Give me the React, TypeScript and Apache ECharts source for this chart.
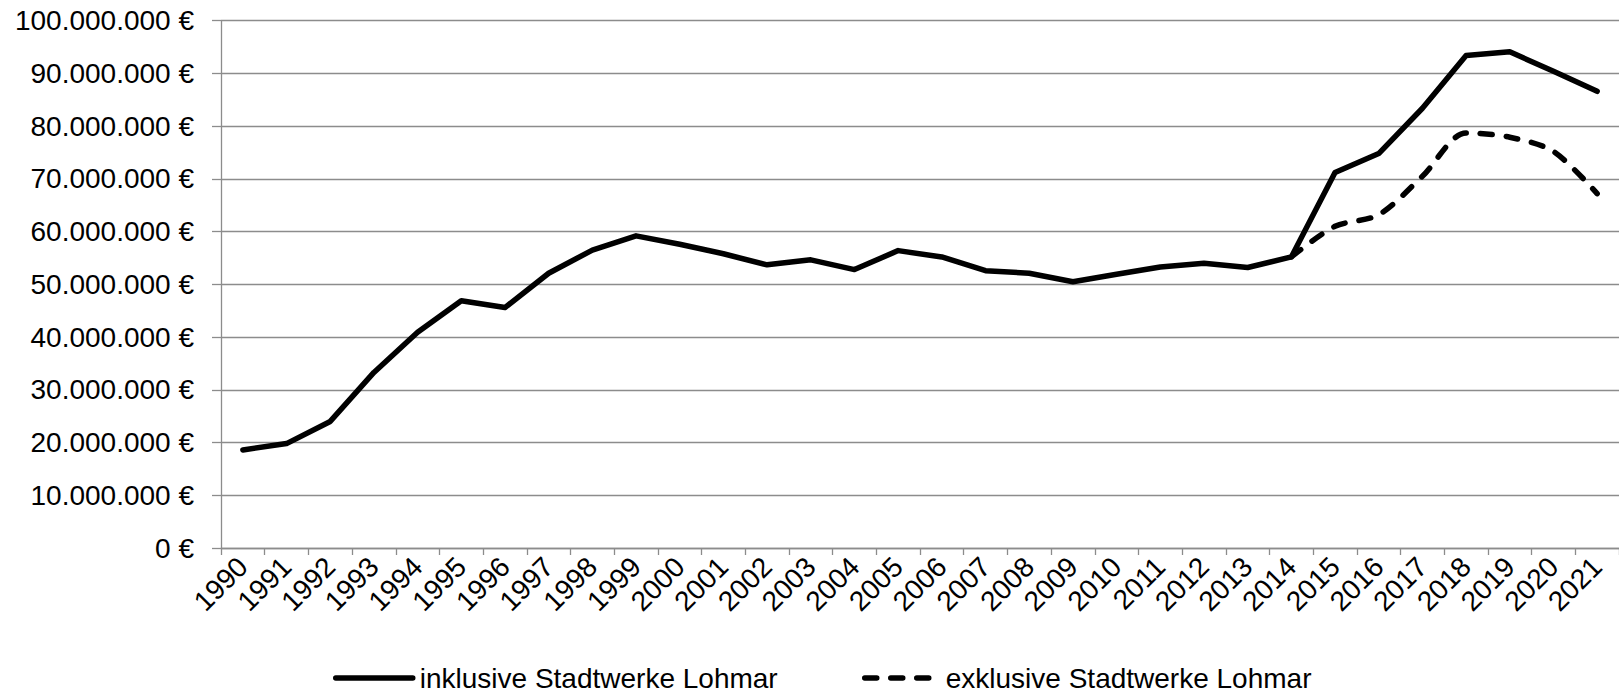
import React, { useEffect, useRef } from "react";
import * as echarts from "echarts";

const years: string[] = [
  "1990", "1991", "1992", "1993", "1994", "1995", "1996", "1997", "1998", "1999",
  "2000", "2001", "2002", "2003", "2004", "2005", "2006", "2007", "2008", "2009",
  "2010", "2011", "2012", "2013", "2014", "2015", "2016", "2017", "2018", "2019",
  "2020", "2021",
];

const inklusive: number[] = [
  18600000, 19800000, 24000000, 33300000, 40900000, 46900000, 45600000, 52100000,
  56500000, 59200000, 57600000, 55800000, 53700000, 54650000, 52800000, 56400000,
  55200000, 52600000, 52100000, 50500000, 51900000, 53300000, 54000000, 53200000,
  55200000, 71200000, 74800000, 83400000, 93400000, 94100000, 90400000, 86600000,
];

const exklusive: (number | null)[] = [
  null, null, null, null, null, null, null, null, null, null,
  null, null, null, null, null, null, null, null, null, null,
  null, null, null, null,
  55200000, 61000000, 63200000, 70500000, 78700000, 77900000, 75200000, 67200000,
];

const seriesNames: string[] = ["inklusive Stadtwerke Lohmar", "exklusive Stadtwerke Lohmar"];

const FONT = "'Liberation Sans', Arial, Helvetica, sans-serif";

function formatEuro(v: number): string {
  const s = Math.round(v).toString().replace(/\B(?=(\d{3})+(?!\d))/g, ".");
  return s + " €";
}

export default function App() {
  const ref = useRef<HTMLDivElement>(null);

  useEffect(() => {
    if (!ref.current) return;
    const chart = echarts.init(ref.current, null, { renderer: "svg" });
    const gridColor = "#8c8c8c";
    chart.setOption({
      animation: false,
      backgroundColor: "#ffffff",
      textStyle: { fontFamily: FONT },
      grid: { left: 221, right: -9, top: 20.7, bottom: 144, containLabel: false },
      legend: [
        {
          data: [seriesNames[0]],
          left: 333,
          top: 664,
          padding: 0,
          itemWidth: 77,
          itemHeight: 26,
          itemStyle: { opacity: 0, borderWidth: 0 },
          lineStyle: { width: 5.5 },
          textStyle: { fontSize: 28, color: "#000", fontFamily: FONT, padding: [0, 0, 0, 2], lineHeight: 26 },
        },
        {
          data: [seriesNames[1]],
          left: 862,
          top: 664,
          padding: 0,
          itemWidth: 68,
          itemHeight: 26,
          itemStyle: { opacity: 0, borderWidth: 0 },
          lineStyle: { width: 5.5 },
          textStyle: { fontSize: 28, color: "#000", fontFamily: FONT, padding: [0, 0, 0, 8], lineHeight: 26 },
        },
      ],
      xAxis: {
        type: "category",
        data: years,
        boundaryGap: true,
        axisLine: { lineStyle: { color: gridColor, width: 1.3 } },
        axisTick: { show: true, length: 7, lineStyle: { color: gridColor, width: 1.3 } },
        axisLabel: {
          rotate: 45,
          fontSize: 28,
          color: "#000",
          fontFamily: FONT,
          margin: 14,
          interval: 0,
        },
        splitLine: { show: false },
      },
      yAxis: {
        type: "value",
        min: 0,
        max: 100000000,
        interval: 10000000,
        axisLine: { show: true, lineStyle: { color: gridColor, width: 1.3 } },
        axisTick: { show: true, length: 9, lineStyle: { color: gridColor, width: 1.3 } },
        axisLabel: {
          fontSize: 28,
          color: "#000",
          fontFamily: FONT,
          margin: 27,
          formatter: (v: number) => formatEuro(v),
        },
        splitLine: { show: true, lineStyle: { color: gridColor, width: 1.3 } },
      },
      series: [
        {
          name: seriesNames[0],
          type: "line",
          data: inklusive,
          symbol: "none",
          showSymbol: false,
          lineStyle: { color: "#000", width: 5.5, cap: "round", join: "round" },
          itemStyle: { color: "#000" },
          z: 3,
        },
        {
          name: seriesNames[1],
          type: "line",
          data: exklusive,
          symbol: "none",
          showSymbol: false,
          smooth: 0.3,
          lineStyle: { color: "#000", width: 5.5, type: [12, 14], cap: "round", join: "round" },
          itemStyle: { color: "#000" },
          z: 2,
        },
      ],
    });
    return () => chart.dispose();
  }, []);

  return (
    <div
      ref={ref}
      style={{ position: "fixed", left: 0, top: 0, width: 1619, height: 692, background: "#fff" }}
    />
  );
}
